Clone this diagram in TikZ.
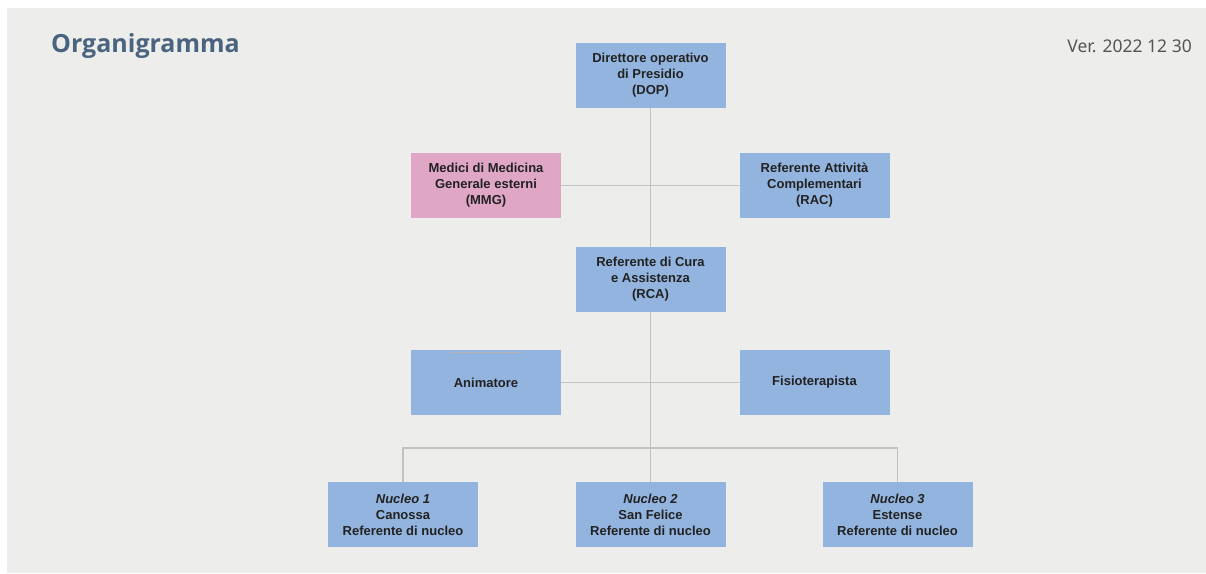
\documentclass[tikz,border=0pt]{standalone}
\usepackage{fontspec}
\setmainfont{Liberation Sans}
\newfontfamily\titlefont{Open Sans}
\newfontfamily\verfont{Noto Sans}
\usetikzlibrary{calc}
\definecolor{bg}{HTML}{EDEEEB}
\definecolor{boxblue}{HTML}{92B4DE}
\definecolor{boxpink}{HTML}{E0A6C6}
\definecolor{linegrey}{HTML}{C2C2C2}
\definecolor{titleblue}{HTML}{4A6480}
\definecolor{vergrey}{HTML}{555555}
\definecolor{boxtext}{HTML}{222222}
\tikzset{
  orgbox/.style={fill=boxblue, draw=none, minimum width=150pt, minimum height=65pt, inner sep=0pt,
    align=center, text=boxtext, font=\fontsize{13}{16}\selectfont\bfseries},
  pinkbox/.style={orgbox, fill=boxpink},
  link/.style={draw=linegrey, line width=1.5pt}
}
\begin{document}
\begin{tikzpicture}[x=1pt,y=-1pt]
\useasboundingbox (0,0) rectangle (1206,573);
\fill[white] (0,0) rectangle (1206,573);
\fill[bg] (7,8) rectangle (1206,573);
\node[anchor=base west, text=titleblue, font=\titlefont\fontsize{25}{30}\selectfont\bfseries, inner sep=0pt] (title) at (51,52) {Organigramma};
\node[anchor=base east, text=vergrey, font=\verfont\fontsize{17.5}{20}\selectfont, inner sep=0pt] (ver) at (1192,52) {Ver. 2022 12 30};
\coordinate (bus) at (651,448);
\node[orgbox] (dop) at (650.5,75.5) {Direttore operativo\\di Presidio\\(DOP)};
\node[pinkbox] (mmg) at (486,185.5) {Medici di Medicina\\Generale esterni\\(MMG)};
\node[orgbox] (rac) at (814.5,185.5) {Referente Attività\\Complementari\\(RAC)};
\node[orgbox] (rca) at (650.5,279.5) {Referente di Cura\\e Assistenza\\(RCA)};
\node[orgbox] (anim) at (486,382.5) {Animatore};
\node[orgbox] (fisio) at (814.5,382.5) {Fisioterapista};
\node[orgbox] (n1) at (403,514.5) {\textit{Nucleo 1}\\Canossa\\Referente di nucleo};
\node[orgbox] (n2) at (650.5,514.5) {\textit{Nucleo 2}\\San Felice\\Referente di nucleo};
\node[orgbox] (n3) at (897.5,514.5) {\textit{Nucleo 3}\\Estense\\Referente di nucleo};
\draw[link] (dop.south) -- (rca.north);
\draw[link] (rca.south) -- (n2.north);
\draw[link] (mmg.east) -- (rac.west);
\draw[link] (anim.east) -- (fisio.west);
\draw[link] (n1.north) |- (bus) -| (n3.north);
\draw[draw=linegrey!80!gray, line width=0.8pt] ($(anim.north west)+(39,2.5)$) -- ($(anim.north west)+(111,2.5)$);
\end{tikzpicture}
\end{document}
